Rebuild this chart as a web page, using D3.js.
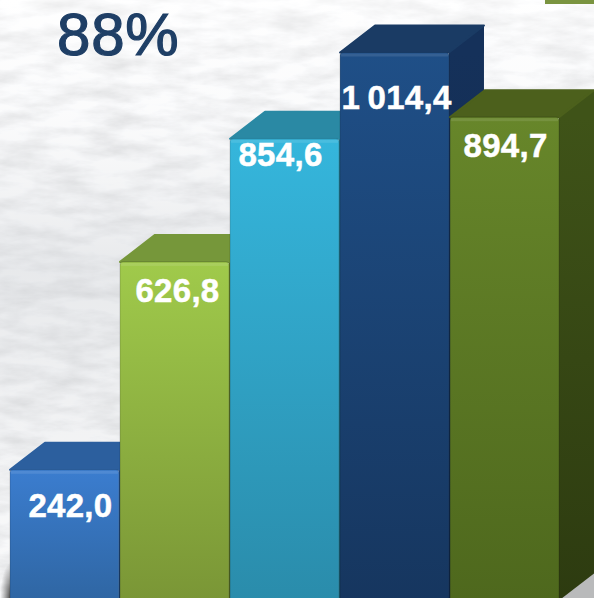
<!DOCTYPE html>
<meta charset="utf-8">
<style>
html, body { margin: 0; padding: 0; background: #eef0f2; overflow: hidden; }
svg { display: block; }
.label { font-family: "Liberation Sans", Arial, sans-serif; font-weight: bold; font-size: 33px; fill: #fff; stroke: #fff; stroke-width: 0.5px; letter-spacing: 0.3px; word-spacing: -2px; }
.title { font-family: "Liberation Sans", Arial, sans-serif; font-size: 60px; letter-spacing: 0.8px; fill: #1f3f66; stroke: #1f3f66; stroke-width: 1.2px; }
</style>
<body>
<script src="https://d3js.org/d3.v7.min.js"></script>
<script>

// values
var categories = ["a", "b", "c", "d", "e"];
var values = [242.0, 626.8, 854.6, 1014.4, 894.7];
var labels = ["242,0", "626,8", "854,6", "1 014,4", "894,7"];
var title = "88%";

// face colours per bar: front top, front bottom, top face, side top, side bottom
var frontTop = ["#3b7dcf", "#a0ca4b", "#35b6dc", "#1f4f87", "#67862a"];
var frontBottom = ["#2f66a3", "#7a9636", "#2a8cab", "#16365f", "#4e681d"];
var topFace = ["#2c5f9e", "#76973a", "#2a89a4", "#1a3b64", "#4c601c"];
var sideTop = ["#234f85", "#5f7a2c", "#22748c", "#15315a", "#3f5318"];
var sideBottom = ["#1c3f6b", "#4f6724", "#1a5c70", "#102848", "#2d3b10"];

// label nudges from the bar centre and bar top, the original has them hand placed
var labelDx = [6, 3, -4, 2, 1];
var labelDy = [47, 40, 27, 56, 40];

var width = 594, height = 598;
var depthX = 35, depthY = 27;

var x = d3.scaleBand().domain(categories).range([10, 559]).paddingInner(0.01).paddingOuter(0);
var y = d3.scaleLinear().domain([0, 1014.4]).range([600.5, 52.5]);

var svg = d3.select("body").append("svg")
    .attr("width", width)
    .attr("height", height);

var defs = svg.append("defs");

// washed out photo in the background
var noise = defs.append("filter").attr("id", "paper")
    .attr("x", 0).attr("y", 0).attr("width", "100%").attr("height", "100%");
noise.append("feTurbulence")
    .attr("type", "fractalNoise")
    .attr("baseFrequency", "0.022 0.07")
    .attr("numOctaves", 5)
    .attr("seed", 11);
noise.append("feColorMatrix")
    .attr("type", "matrix")
    .attr("values", "0.5 0 0 0 0.665  0.5 0 0 0 0.67  0.5 0 0 0 0.68  0 0 0 0 1");

var shade = defs.append("linearGradient").attr("id", "bgShade")
    .attr("x1", 0).attr("y1", 0).attr("x2", 0).attr("y2", 1);
shade.append("stop").attr("offset", "0%").attr("stop-color", "#fff").attr("stop-opacity", 0.45);
shade.append("stop").attr("offset", "18%").attr("stop-color", "#f2f3f5").attr("stop-opacity", 0.3);
shade.append("stop").attr("offset", "45%").attr("stop-color", "#d0d3d7").attr("stop-opacity", 0.5);
shade.append("stop").attr("offset", "75%").attr("stop-color", "#dcdee1").attr("stop-opacity", 0.35);
shade.append("stop").attr("offset", "100%").attr("stop-color", "#e8e9eb").attr("stop-opacity", 0.2);

var floor = defs.append("radialGradient").attr("id", "floorShadow")
    .attr("cx", "100%").attr("cy", "100%").attr("r", "100%");
floor.append("stop").attr("offset", "0%").attr("stop-color", "#222").attr("stop-opacity", 0.95);
floor.append("stop").attr("offset", "100%").attr("stop-color", "#555").attr("stop-opacity", 0);

categories.forEach(function(c, i) {
  var g = defs.append("linearGradient").attr("id", "front" + i)
      .attr("gradientUnits", "userSpaceOnUse")
      .attr("x1", 0).attr("y1", y(values[i])).attr("x2", 0).attr("y2", y(0));
  g.append("stop").attr("offset", "0%").attr("stop-color", frontTop[i]);
  g.append("stop").attr("offset", "100%").attr("stop-color", frontBottom[i]);
  var s = defs.append("linearGradient").attr("id", "side" + i)
      .attr("gradientUnits", "userSpaceOnUse")
      .attr("x1", 0).attr("y1", y(values[i])).attr("x2", 0).attr("y2", y(0));
  s.append("stop").attr("offset", "0%").attr("stop-color", sideTop[i]);
  s.append("stop").attr("offset", "100%").attr("stop-color", sideBottom[i]);
});

svg.append("rect").attr("width", width).attr("height", height).attr("filter", "url(#paper)");
svg.append("rect").attr("width", width).attr("height", height).attr("fill", "url(#bgShade)");

// dark floor peeking out at the bottom corners
svg.append("rect").attr("x", 0).attr("y", 562).attr("width", 12).attr("height", 36).attr("fill", "url(#floorShadow)");
svg.append("path").attr("d", "M556,598L594,568V598Z").attr("fill", "#b9babb");

// small green corner of the next slide element
svg.append("rect").attr("x", 545).attr("y", 0).attr("width", 49).attr("height", 4).attr("fill", "#7a9440");

svg.append("text").attr("class", "title").attr("x", 57).attr("y", 54.5).text(title);

var bw = x.bandwidth();

var bars = svg.selectAll(".bar")
    .data(values)
  .enter().append("g")
    .attr("class", "bar");

// side face
bars.append("path")
    .attr("fill", function(d, i) { return "url(#side" + i + ")"; })
    .attr("d", function(d, i) {
      var l = x(categories[i]) + bw, t = y(d), b = y(0);
      return "M" + l + "," + t + "L" + (l + depthX) + "," + (t - depthY) +
             "V" + (b - depthY) + "L" + l + "," + b + "Z";
    });

// top face
bars.append("path")
    .attr("fill", function(d, i) { return topFace[i]; })
    .attr("stroke", function(d, i) { return topFace[i]; })
    .attr("stroke-width", 2)
    .attr("stroke-linejoin", "round")
    .attr("d", function(d, i) {
      var l = x(categories[i]), t = y(d);
      return "M" + l + "," + t + "L" + (l + depthX) + "," + (t - depthY) +
             "H" + (l + bw + depthX) + "L" + (l + bw) + "," + t + "Z";
    });

// front face
bars.append("rect")
    .attr("x", function(d, i) { return x(categories[i]); })
    .attr("y", function(d) { return y(d); })
    .attr("width", bw)
    .attr("height", function(d) { return y(0) - y(d); })
    .attr("rx", 3)
    .attr("fill", function(d, i) { return "url(#front" + i + ")"; })
    .attr("stroke", "#000")
    .attr("stroke-opacity", 0.14)
    .attr("stroke-width", 1.2);

// soft highlight along the top edge of the front
bars.append("rect")
    .attr("x", function(d, i) { return x(categories[i]) + 1; })
    .attr("y", function(d) { return y(d) + 1; })
    .attr("width", bw - 2)
    .attr("height", 3)
    .attr("fill", "#fff")
    .attr("fill-opacity", 0.1);

bars.append("text")
    .attr("class", "label")
    .attr("text-anchor", "middle")
    .attr("x", function(d, i) { return x(categories[i]) + bw / 2 + labelDx[i]; })
    .attr("y", function(d, i) { return y(d) + labelDy[i]; })
    .text(function(d, i) { return labels[i]; });

</script>
</body>
